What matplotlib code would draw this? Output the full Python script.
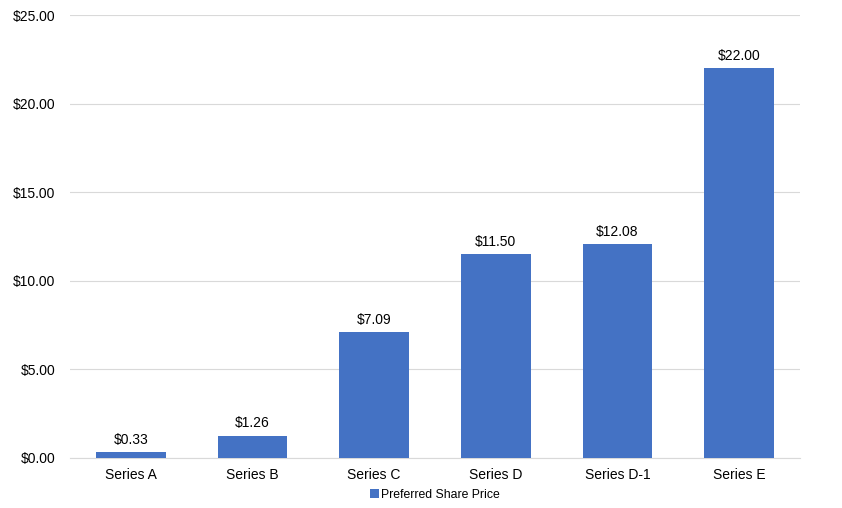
import matplotlib
matplotlib.use("Agg")
import matplotlib.pyplot as plt
from matplotlib.ticker import FuncFormatter

categories = ["Series A", "Series B", "Series C", "Series D", "Series D-1", "Series E"]
prices = [0.33, 1.26, 7.09, 11.50, 12.08, 22.00]
series_name = "Preferred Share Price"

plt.rcParams['font.family'] = ['Liberation Sans', 'DejaVu Sans']

fig = plt.figure(figsize=(8.42, 5.08), dpi=100)
ax = fig.add_axes([70/842, 50/508, 730/842, 443/508])

x = range(len(categories))
bars = ax.bar(x, prices, width=0.57, color="#4472C4", label=series_name, zorder=3)
for xi, v in zip(x, prices):
    ax.text(xi, v + 0.3, f"${v:,.2f}", ha="center", va="bottom", fontsize=10, color="#000000")

ax.set_ylim(0, 25)
ax.set_xlim(-0.5, len(categories) - 0.5)
ax.set_yticks([0, 5, 10, 15, 20, 25])
ax.yaxis.set_major_formatter(FuncFormatter(lambda v, p: f"${v:,.2f}"))
ax.set_xticks(list(x))
ax.set_xticklabels(categories)
ax.tick_params(axis="both", length=0, labelsize=10, colors="#000000")
ax.tick_params(axis="y", pad=10.5)
ax.tick_params(axis="x", pad=7)
ax.grid(axis="y", color="#d9d9d9", linewidth=0.8, zorder=0)
for s in ["top", "right", "left"]:
    ax.spines[s].set_visible(False)
ax.spines["bottom"].set_color("#d9d9d9")

ax.legend(loc="upper center", bbox_to_anchor=(0.5, -0.045), frameon=False, fontsize=8.8,
          handlelength=0.7, handleheight=0.7, handletextpad=0.2)

fig.savefig("out.png", dpi=100)
